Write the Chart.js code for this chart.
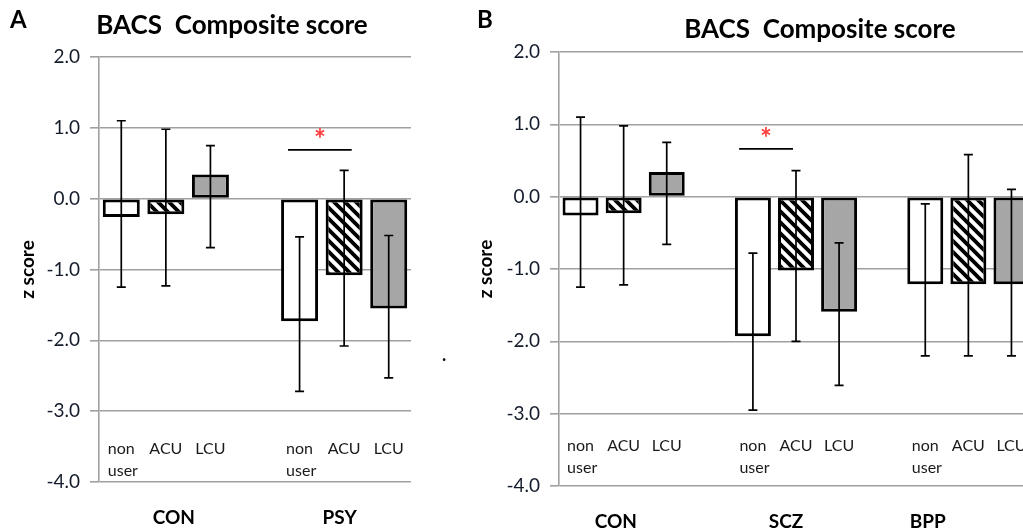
<!DOCTYPE html>
<html>
<head>
<meta charset="utf-8">
<script src="https://cdn.jsdelivr.net/npm/chart.js@4.4.0/dist/chart.umd.min.js"></script>
<style>
  html, body { margin: 0; padding: 0; background: #fff; overflow: hidden; }
  body { width: 1023px; height: 528px; position: relative; }
  .panel { position: absolute; top: 0; height: 528px; }
  #panelA { left: 0; width: 450px; }
  #panelB { left: 470px; width: 600px; }
  #dot { position: absolute; left: 442px; top: 343px; font: bold 18px Lato; color: #111; }
</style>
</head>
<body>
<div class="panel" id="panelA"><canvas id="chartA"></canvas></div>
<div class="panel" id="panelB"><canvas id="chartB"></canvas></div>
<div id="dot">.</div>
<script>
// values (z scores)
const subgroups = ['non user', 'ACU', 'LCU'];
const yTicks = [2, 1, 0, -1, -2, -3, -4];

const groupsA = ['CON', 'PSY'];
const meanA  = [-0.26, -0.22, 0.34, -1.73, -1.08, -1.55];
const upperA = [1.10, 0.98, 0.75, -0.54, 0.40, -0.52];
const lowerA = [-1.25, -1.23, -0.69, -2.72, -2.08, -2.53];

const groupsB = ['CON', 'SCZ', 'BPP'];
const meanB  = [-0.26, -0.23, 0.34, -1.93, -1.02, -1.59, -1.21, -1.21, -1.21];
const upperB = [1.10, 0.98, 0.75, -0.78, 0.36, -0.64, -0.10, 0.58, 0.10];
const lowerB = [-1.25, -1.22, -0.66, -2.95, -2.00, -2.61, -2.20, -2.20, -2.20];

const FONT = 'Lato';

// spread group values over slots with an empty slot between groups
function toSlots(groups, values) {
  const out = [];
  groups.forEach((g, gi) => {
    if (gi) out.push(null);
    for (let s = 0; s < subgroups.length; s++) out.push(values[gi * subgroups.length + s]);
  });
  return out;
}

function hatch() {
  const c = document.createElement('canvas');
  const n = 11;
  c.width = n; c.height = n;
  const g = c.getContext('2d');
  g.fillStyle = '#fff';
  g.fillRect(0, 0, n, n);
  g.strokeStyle = '#000';
  g.lineWidth = 3.8;
  g.beginPath();
  g.moveTo(-2, -2); g.lineTo(n + 2, n + 2);
  g.moveTo(-2 - n, -2); g.lineTo(2, n + 2);
  g.moveTo(n - 2, -2); g.lineTo(2 * n + 2, n + 2);
  g.stroke();
  return g.createPattern(c, 'repeat');
}

const fills = ['#ffffff', hatch(), '#a6a6a6'];

function extras(cfg) {
  return {
    id: 'extras',
    afterDatasetsDraw(chart) {
      const { ctx, scales: { x, y } } = chart;
      const meta = chart.getDatasetMeta(0);
      ctx.save();
      // error bars
      ctx.strokeStyle = '#000';
      ctx.lineWidth = 1.7;
      cfg.upper.forEach((hi, i) => {
        if (hi === null) return;
        const bx = meta.data[i].x;
        const yt = y.getPixelForValue(hi);
        const yb = y.getPixelForValue(cfg.lower[i]);
        ctx.beginPath();
        ctx.moveTo(bx, yt); ctx.lineTo(bx, yb);
        ctx.moveTo(bx - 4.5, yt); ctx.lineTo(bx + 4.5, yt);
        ctx.moveTo(bx - 4.5, yb); ctx.lineTo(bx + 4.5, yb);
        ctx.stroke();
      });
      // significance bracket
      const sy = y.getPixelForValue(cfg.sig.y);
      ctx.beginPath();
      ctx.moveTo(x.getPixelForValue(cfg.sig.from), sy);
      ctx.lineTo(x.getPixelForValue(cfg.sig.to), sy);
      ctx.stroke();
      ctx.fillStyle = '#ff3b3b';
      ctx.font = 'bold 28px ' + FONT;
      ctx.textAlign = 'center';
      ctx.textBaseline = 'alphabetic';
      ctx.fillText('*', (x.getPixelForValue(cfg.sig.from) + x.getPixelForValue(cfg.sig.to)) / 2, sy - 1);
      ctx.restore();
    },
    afterDraw(chart) {
      const { ctx, scales: { x, y }, chartArea } = chart;
      ctx.save();
      ctx.fillStyle = '#000';
      ctx.textBaseline = 'alphabetic';
      ctx.textAlign = 'left';
      ctx.font = 'bold 24px ' + FONT;
      ctx.fillText(cfg.letter, cfg.letterX, 28);
      ctx.textAlign = 'center';
      ctx.font = 'bold 26px ' + FONT;
      ctx.fillText('BACS  Composite score', cfg.titleX, cfg.titleY);
      // subgroup labels inside the plot
      ctx.fillStyle = '#1a1a1a';
      ctx.font = '16px ' + FONT;
      const base = y.getPixelForValue(cfg.subY);
      chart.data.labels.forEach((lab, i) => {
        if (!lab) return;
        const cx = x.getPixelForValue(i);
        const lines = lab.split(' ');
        lines.forEach((t, k) => {
          ctx.textAlign = lines.length > 1 ? 'left' : 'center';
          const w = ctx.measureText(lines[0]).width;
          ctx.fillText(t, lines.length > 1 ? cx - w / 2 : cx, base + k * 22);
        });
      });
      // group labels below the axis
      ctx.fillStyle = '#000';
      ctx.font = 'bold 19px ' + FONT;
      ctx.textAlign = 'center';
      cfg.groups.forEach((g, gi) => {
        ctx.fillText(g, x.getPixelForValue(cfg.groupAt[gi]), chartArea.bottom + 42);
      });
      ctx.restore();
    }
  };
}

function makeChart(id, groups, mean, upper, lower, cfg) {
  const labels = [];
  groups.forEach((g, gi) => {
    if (gi) labels.push('');
    subgroups.forEach(s => labels.push(s));
  });
  const colors = labels.map((l, i) => fills[i % 4 === 3 ? 0 : i % 4]);
  cfg.groups = groups;
  cfg.upper = toSlots(groups, upper);
  cfg.lower = toSlots(groups, lower);
  return new Chart(document.getElementById(id), {
    type: 'bar',
    data: {
      labels: labels,
      datasets: [{
        data: toSlots(groups, mean),
        backgroundColor: colors,
        borderColor: '#000',
        borderWidth: 3,
        borderSkipped: false,
        barPercentage: cfg.barPct,
        categoryPercentage: 1
      }]
    },
    options: {
      responsive: true,
      maintainAspectRatio: false,
      animation: false,
      layout: { padding: cfg.padding },
      plugins: { legend: { display: false }, tooltip: { enabled: false }, title: { display: false } },
      scales: {
        x: { display: false },
        y: {
          min: -4, max: 2,
          afterFit: (s) => { s.width = cfg.axisWidth; },
          afterBuildTicks: (s) => { s.ticks = yTicks.map(v => ({ value: v })); },
          ticks: {
            callback: (v) => v.toFixed(1),
            color: '#141c2b',
            font: { family: FONT, size: 19 },
            padding: 10
          },
          grid: { color: '#a0a0a0', lineWidth: 1.6, tickLength: 9 },
          border: { color: '#a0a0a0', width: 1.6 },
          title: {
            display: true,
            text: 'z score',
            color: '#000',
            font: { family: FONT, size: 19, weight: 'bold' },
            padding: { top: cfg.ytitlePad, bottom: 0 }
          }
        }
      }
    },
    plugins: [extras(cfg)]
  });
}

makeChart('chartA', groupsA, meanA, upperA, lowerA, {
  letter: 'A', letterX: 10, titleX: 232, titleY: 34,
  padding: { left: 0, top: 57, right: 39, bottom: 46 },
  axisWidth: 99, ytitlePad: 16, barPct: 0.83,
  subY: -3.6, groupAt: [1.18, 4.9],
  sig: { from: 3.74, to: 5.17, y: 0.69 }
});

makeChart('chartB', groupsB, meanB, upperB, lowerB, {
  letter: 'B', letterX: 7, titleX: 350, titleY: 38,
  padding: { left: 0, top: 52, right: 37, bottom: 42 },
  axisWidth: 89, ytitlePad: 4, barPct: 0.835,
  subY: -3.52, groupAt: [0.82, 4.77, 8.06],
  sig: { from: 3.68, to: 4.93, y: 0.66 }
});
</script>
</body>
</html>
